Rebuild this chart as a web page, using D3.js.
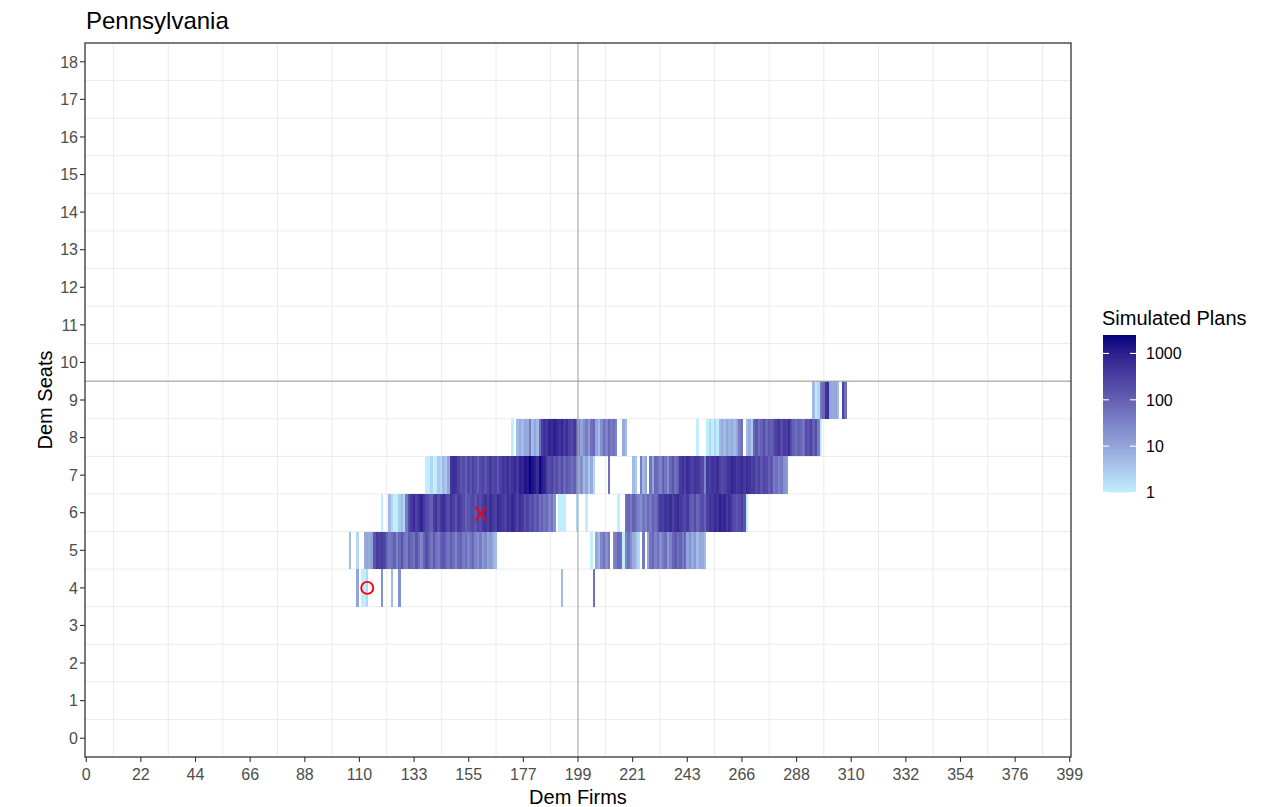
<!DOCTYPE html>
<html>
  <head>
    <title>Pennsylvania: Dem Seats vs Dem Firms</title>
    <meta charset="UTF-8">
    <style>
      body { margin: 0; background: #fff; }
      text { font-family: "Liberation Sans", Arial, sans-serif; }
    </style>
  </head>
  <body>
    <svg></svg>

    <script src="https://d3js.org/d3.v7.min.js"></script>
    <script>

// simulated plan counts, one value per Dem Firms column (0 = no plans)
var seats4a = [10,0,1,1,2,0,0,0,0,0,20,0,0,0,5,0,0,20];            // from 110
var seats4b = [5,0,0,0,0,0,0,0,0,0,0,0,0,60];                      // from 193
var seats5a = [5,0,0,2,0,0,8,10,8,12,
  150,400,300,350,250,80,40,60,100,30,
  80,150,60,40,120,80,50,150,60,30,
  90,200,100,50,120,60,40,100,150,80,
  50,120,60,30,80,100,40,60,30,50,
  80,30,20,40,15,25,10,15,8,5];                                      // from 107
var seats5b = [1,0,10,5,30,50,20,40,0,30,
  40,80,60,1,30,50,20,8,5,2,
  0,40,0,10,50,80,30,60,20,40,
  60,15,30,80,120,60,100,40,80,10,
  20,8,15,5,10,8,5];                                                 // from 205
var seats6 = [1,0,0,5,2,1,1,3,5,2,
  40,200,400,600,300,500,800,400,200,150,
  100,300,500,200,400,600,300,200,500,300,
  150,400,300,200,100,150,200,250,150,300,
  200,400,500,300,600,400,300,700,500,400,
  300,600,400,800,500,300,600,400,200,300,
  150,200,100,150,60,100,50,80,30,50,
  20,0,1,1,1,0,0,0,0,2,
  0,0,0,1,0,0,0,0,0,0,
  0,0,0,0,0,0,1,0,0,
  60,80,40,100,60,30,20,50,30,80,
  40,100,60,150,400,300,500,400,600,300,
  500,700,400,300,200,400,150,100,200,80,
  150,200,100,300,500,400,700,500,1000,600,
  800,400,600,300,200,150,200,300,150,1];                            // from 120
var seats7 = [1,1,2,1,1,3,2,5,3,10,
  400,600,500,300,150,200,100,250,150,300,
  200,100,200,300,150,250,400,200,300,150,
  300,500,400,600,300,500,700,400,1000,800,
  1500,1200,2500,1500,1000,600,2000,1200,800,300,
  200,300,150,200,100,200,80,150,100,60,
  100,30,10,20,5,10,3,8,2,0,
  0,0,0,0,60,0,0,0,0,0,
  0,0,0,0,5,3,0,40,5,10,
  0,50,10,80,60,30,100,50,20,80,
  150,60,100,400,500,300,600,400,300,500,
  400,300,200,30,400,300,500,400,600,300,
  200,250,400,500,800,600,400,500,700,400,
  600,500,300,400,200,300,150,250,200,100,
  150,40,60,30,50,20,15];                                            // from 138
var seats8a = [1,0,5,8,5,10,8,40,5,10,
  5,60,300,500,400,800,600,1000,700,500,
  800,400,600,300,200,400,100,30,10,20,
  40,15,60,80,10,5,20,60,30,80,
  40,60,30,0,0,8,5];                                                 // from 173
var seats8b = [1,0,0,0,1,2,1,2,1,5,
  8,5,10,6,8,5,10,40,60,0,
  5,8,3,80,150,60,100,200,80,150,
  100,200,300,500,200,400,300,600,200,100,
  60,100,80,50,200,150,300,100,200,40,
  1];                                                                // from 248
var seats9 = [5,1,2,40,80,500,600,10,8,10,5,0,300,60];             // from 295

var xTickLabels = [0,22,44,66,88,110,133,155,177,199,221,243,266,288,310,332,354,376,399];
var yTickLabels = [0,1,2,3,4,5,6,7,8,9,10,11,12,13,14,15,16,17,18];
var legendLabels = [1,10,100,1000];

var circleMark = [114, 4];
var crossMark = [160, 6];

var segments = [
  {seats: 4, start: 110, counts: seats4a},
  {seats: 4, start: 193, counts: seats4b},
  {seats: 5, start: 107, counts: seats5a},
  {seats: 5, start: 205, counts: seats5b},
  {seats: 6, start: 120, counts: seats6},
  {seats: 7, start: 138, counts: seats7},
  {seats: 8, start: 173, counts: seats8a},
  {seats: 8, start: 248, counts: seats8b},
  {seats: 9, start: 295, counts: seats9}
];

var tiles = [];
segments.forEach(function(s){
  s.counts.forEach(function(c, i){
    if (c > 0) tiles.push({firms: s.start + i, seats: s.seats, n: c});
  });
});

var width = 1281, height = 807;
var panel = {left: 85, top: 43, right: 1071, bottom: 757};
var maxFirms = 399, maxSeats = 18;

var svg = d3.select("svg")
  .attr("width", width)
  .attr("height", height);

var x = d3.scaleLinear().domain([-0.5, maxFirms + 0.5]).range([panel.left, panel.right]);
var y = d3.scaleLinear().domain([-0.5, maxSeats + 0.5]).range([panel.bottom, panel.top]);
var color = d3.scaleLog()
  .domain([1, d3.max(tiles, function(d){ return d.n; })])
  .range(["#BFEFFF", "#000080"])
  .interpolate(d3.interpolateLab);

// break positions: 19 evenly spaced over 0..399
var xBreaks = xTickLabels.map(function(d, i){ return i * maxFirms / (xTickLabels.length - 1); });

// minor grid between breaks
var grid = svg.append("g").attr("stroke", "#ebebeb").attr("stroke-width", 1);
for (var i = 0; i < xBreaks.length - 1; i++) {
  var gx = x((xBreaks[i] + xBreaks[i + 1]) / 2);
  grid.append("line").attr("x1", gx).attr("x2", gx).attr("y1", panel.top).attr("y2", panel.bottom);
}
for (var k = 0; k < yTickLabels.length - 1; k++) {
  var gy = y(yTickLabels[k] + 0.5);
  grid.append("line").attr("x1", panel.left).attr("x2", panel.right).attr("y1", gy).attr("y2", gy);
}

// tiles
var tw = x(1) - x(0), th = y(0) - y(1);
svg.append("g")
  .selectAll("rect")
  .data(tiles)
  .enter().append("rect")
    .attr("x", function(d){ return x(d.firms - 0.5); })
    .attr("y", function(d){ return y(d.seats + 0.5); })
    .attr("width", tw)
    .attr("height", th)
    .attr("fill", function(d){ return color(d.n); })
    .attr("shape-rendering", "crispEdges");

// reference lines at the midpoints
svg.append("line")
  .attr("x1", x(maxFirms / 2)).attr("x2", x(maxFirms / 2))
  .attr("y1", panel.top).attr("y2", panel.bottom)
  .attr("stroke", "#a8a8a8").attr("stroke-opacity", 0.8).attr("stroke-width", 1.4);
svg.append("line")
  .attr("x1", panel.left).attr("x2", panel.right)
  .attr("y1", y(maxSeats / 2 + 0.5)).attr("y2", y(maxSeats / 2 + 0.5))
  .attr("stroke", "#a8a8a8").attr("stroke-opacity", 0.8).attr("stroke-width", 1.4);

// markers
svg.append("circle")
  .attr("cx", x(circleMark[0])).attr("cy", y(circleMark[1]))
  .attr("r", 6)
  .attr("fill", "none").attr("stroke", "#ff0000").attr("stroke-width", 1.9);
var cx = x(crossMark[0]), cy = y(crossMark[1]) + 1;
svg.append("path")
  .attr("d", "M" + (cx - 5.5) + "," + (cy - 7) + "L" + (cx + 5.5) + "," + (cy + 7) +
             "M" + (cx + 5.5) + "," + (cy - 7) + "L" + (cx - 5.5) + "," + (cy + 7))
  .attr("stroke", "#ff0000").attr("stroke-width", 1.9).attr("fill", "none");

// panel border
svg.append("rect")
  .attr("x", panel.left).attr("y", panel.top)
  .attr("width", panel.right - panel.left).attr("height", panel.bottom - panel.top)
  .attr("fill", "none").attr("stroke", "#333333").attr("stroke-width", 1.3);

// x axis
var xAxis = svg.append("g");
xBreaks.forEach(function(b, i){
  xAxis.append("line")
    .attr("x1", x(b)).attr("x2", x(b)).attr("y1", panel.bottom).attr("y2", panel.bottom + 5)
    .attr("stroke", "#333333").attr("stroke-width", 1.1);
  xAxis.append("text")
    .attr("x", x(b)).attr("y", panel.bottom + 23)
    .attr("text-anchor", "middle")
    .attr("font-size", 16).attr("fill", "#4d4d4d")
    .text(xTickLabels[i]);
});

// y axis
var yAxis = svg.append("g");
yTickLabels.forEach(function(v){
  yAxis.append("line")
    .attr("x1", panel.left - 5).attr("x2", panel.left).attr("y1", y(v)).attr("y2", y(v))
    .attr("stroke", "#333333").attr("stroke-width", 1.1);
  yAxis.append("text")
    .attr("x", panel.left - 7).attr("y", y(v)).attr("dy", "0.36em")
    .attr("text-anchor", "end")
    .attr("font-size", 16).attr("fill", "#4d4d4d")
    .text(v);
});

// titles
svg.append("text")
  .attr("x", 86).attr("y", 29)
  .attr("font-size", 24).attr("fill", "#000")
  .text("Pennsylvania");
svg.append("text")
  .attr("x", (panel.left + panel.right) / 2).attr("y", 804)
  .attr("text-anchor", "middle")
  .attr("font-size", 20).attr("fill", "#000")
  .text("Dem Firms");
svg.append("text")
  .attr("transform", "translate(52," + ((panel.top + panel.bottom) / 2) + ") rotate(-90)")
  .attr("text-anchor", "middle")
  .attr("font-size", 20).attr("fill", "#000")
  .text("Dem Seats");

// legend
var legend = svg.append("g");
var lg = {x: 1103, w: 33};
var ly = d3.scaleLog().domain(color.domain()).range([492.5, 335]);

legend.append("text")
  .attr("x", 1102).attr("y", 325)
  .attr("font-size", 20).attr("fill", "#000")
  .text("Simulated Plans");

var grad = svg.append("defs").append("linearGradient")
  .attr("id", "plansGrad")
  .attr("x1", 0).attr("x2", 0).attr("y1", 1).attr("y2", 0);
d3.range(0, 1.0001, 0.05).forEach(function(t){
  var v = Math.pow(10, Math.log10(color.domain()[0]) + t * (Math.log10(color.domain()[1]) - Math.log10(color.domain()[0])));
  grad.append("stop").attr("offset", t).attr("stop-color", color(v));
});

legend.append("rect")
  .attr("x", lg.x).attr("y", ly.range()[1])
  .attr("width", lg.w).attr("height", ly.range()[0] - ly.range()[1])
  .attr("fill", "url(#plansGrad)");

legendLabels.forEach(function(v){
  legend.append("line")
    .attr("x1", lg.x).attr("x2", lg.x + 6).attr("y1", ly(v)).attr("y2", ly(v))
    .attr("stroke", "#fff").attr("stroke-width", 1.1);
  legend.append("line")
    .attr("x1", lg.x + lg.w - 6).attr("x2", lg.x + lg.w).attr("y1", ly(v)).attr("y2", ly(v))
    .attr("stroke", "#fff").attr("stroke-width", 1.1);
  legend.append("text")
    .attr("x", 1146).attr("y", ly(v)).attr("dy", "0.36em")
    .attr("font-size", 16).attr("fill", "#000")
    .text(v);
});

    </script>
  </body>
</html>
